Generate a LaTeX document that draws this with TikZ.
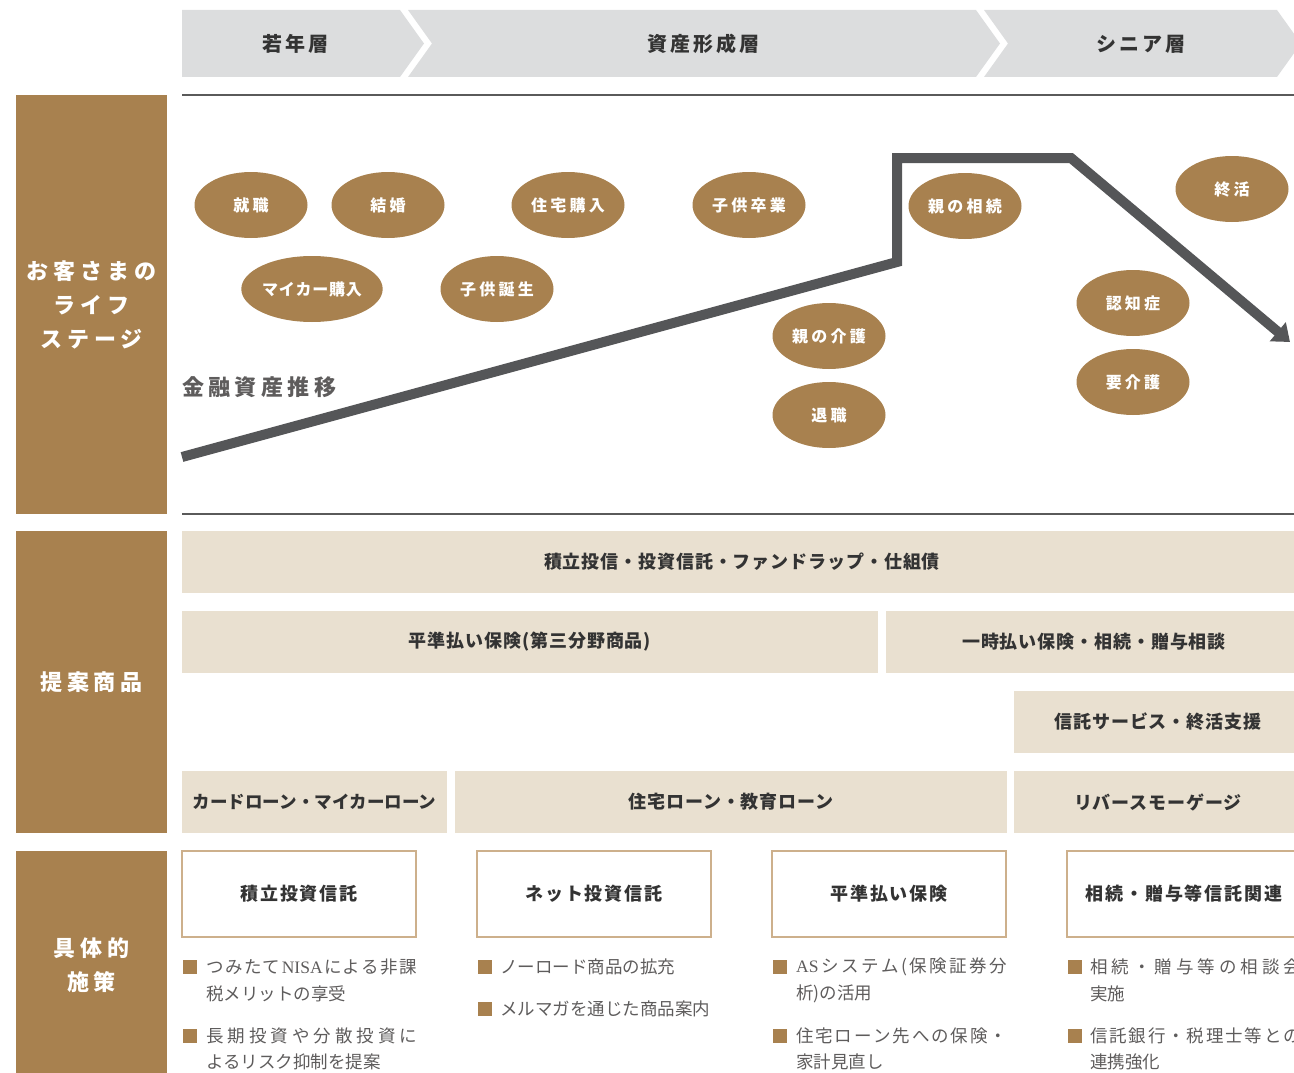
\documentclass[tikz,border=0pt]{standalone}
\usepackage{fontspec}
\usepackage{graphicx}
\setmainfont{Noto Sans CJK JP}
\newfontfamily\jpa{Noto Sans CJK JP}
\newfontfamily\jpb[LetterSpace=5]{Noto Sans CJK JP}
\newfontfamily\jpc[LetterSpace=10]{Noto Sans CJK JP}
\newfontfamily\jpf[LetterSpace=15]{Noto Sans CJK JP}
\newfontfamily\jpd[LetterSpace=20]{Noto Sans CJK JP}
\newfontfamily\jpe[LetterSpace=22]{Noto Sans CJK JP}
\newfontfamily\latserif{Liberation Serif}
\usetikzlibrary{arrows.meta,shapes.geometric}

\definecolor{brownA}{HTML}{A8814F}
\definecolor{beigeA}{HTML}{E9E0D0}
\definecolor{hdrgray}{HTML}{DCDDDE}
\definecolor{pathgray}{HTML}{555658}
\definecolor{rulegray}{HTML}{5A5A5A}
\definecolor{boxline}{HTML}{CDB08C}
\definecolor{txtdark}{HTML}{333333}
\definecolor{txtgray}{HTML}{5E5C5C}

\def\jrelax{\relax}
\def\justline#1#2{\hbox to #1{\justfirst#2\relax}}
\def\justfirst#1{{#1}\justloop}
\def\justloop#1{\def\jtmp{#1}\ifx\jtmp\jrelax\else\hfil{#1}\expandafter\justloop\fi}

\tikzset{
  hdrshape/.style={fill=hdrgray},
  hdrtext/.style={inner sep=0, text=txtdark, font=\jpf\bfseries\fontsize{20}{24}\selectfont},
  rule/.style={draw=rulegray, line width=1.2pt},
  side/.style={fill=brownA, inner sep=0, minimum width=151pt, text=white, align=center,
    font=\jpe\bfseries\fontsize{22}{34}\selectfont},
  event/.style={ellipse, fill=brownA, minimum width=113pt, minimum height=66pt, inner sep=0,
    text=white, font=\jpd\bfseries\fontsize{16}{18}\selectfont},
  prod/.style={fill=beigeA, inner sep=0, minimum height=62pt, text=txtdark,
    font=\jpb\bfseries\fontsize{18}{20}\selectfont},
  measure/.style={draw=boxline, line width=1.3pt, fill=white, minimum width=234pt,
    minimum height=86pt, inner sep=0, text=txtdark, font=\jpc\bfseries\fontsize{18}{20}\selectfont},
  bullet/.style={fill=brownA, minimum size=14pt, inner sep=0},
  btext/.style={anchor=west, inner sep=0, text=txtgray, font=\jpa\fontsize{17.5}{26}\selectfont},
  assetline/.style={draw=pathgray, line width=10pt, miter limit=20,
    -{Triangle[length=16pt,width=24pt]}},
}

\begin{document}
\begin{tikzpicture}[x=1pt,y=-1pt]
\useasboundingbox (0,0) rectangle (1294,1073);
\clip (0,0) rectangle (1294,1073);

% ---- header chevrons ----
\fill[hdrshape] (182,10) -- (400,10) -- (424,43.5) -- (400,77) -- (182,77) -- cycle;
\fill[hdrshape] (408,10) -- (976,10) -- (1000,43.5) -- (976,77) -- (408,77) -- (432,43.5) -- cycle;
\fill[hdrshape] (984,10) -- (1277,10) -- (1301,43.5) -- (1277,77) -- (984,77) -- (1008,43.5) -- cycle;
\node[hdrtext] (h1) at (295,44) {若年層};
\node[hdrtext] (h2) at (703,44) {資産形成層};
\node[hdrtext] (h3) at (1141,44) {シニア層};

% ---- rules ----
\draw[rule] (182,95) -- (1294,95);
\draw[rule] (182,514) -- (1294,514);

% ---- left column ----
\node[side, minimum height=419pt] (s1) at (91.5,304.5) {お客さまの\\ライフ\\ステージ};
\node[side, minimum height=302pt] (s2) at (91.5,682) {提案商品};
\node[side, minimum height=229pt] (s3) at (91.5,965.5) {具体的\\施策};

% ---- asset curve ----
\coordinate (p0) at (182,457);
\coordinate (p1) at (897,262);
\coordinate (p2) at (897,158);
\coordinate (p3) at (1071,158);
\coordinate (p4) at (1290,342);
\draw[assetline] (p0) -- (p1) -- (p2) -- (p3) -- (p4);
\node[anchor=west, inner sep=0, text=txtgray, font=\jpd\bfseries\fontsize{22}{24}\selectfont]
  (asset) at (182,387) {金融資産推移};

% ---- life events ----
\node[event] (e1) at (251,205) {就職};
\node[event] (e2) at (388,205) {結婚};
\node[event] (e3) at (568,205) {住宅購入};
\node[event] (e4) at (749,205) {子供卒業};
\node[event] (e5) at (965,206) {親の相続};
\node[event] (e6) at (1232,189) {終活};
\node[event, font=\jpb\bfseries\fontsize{16}{18}\selectfont] (e7) at (312,289) {マイカー購入};
\node[event] (e8) at (497,289) {子供誕生};
\node[event] (e9) at (829,336) {親の介護};
\node[event] (e10) at (829,415) {退職};
\node[event] (e11) at (1133,303) {認知症};
\node[event] (e12) at (1133,382) {要介護};

% ---- products ----
\node[prod, minimum width=1120pt] (r1) at (742,562) {積立投信・投資信託・ファンドラップ・仕組債};
\node[prod, minimum width=696pt] (r2a) at (530,642) {平準払い保険(第三分野商品)};
\node[prod, minimum width=416pt] (r2b) at (1094,642) {一時払い保険・相続・贈与相談};
\node[prod, minimum width=288pt] (r3) at (1158,722) {信託サービス・終活支援};
\node[prod, minimum width=265pt, font=\jpa\bfseries\fontsize{17.5}{20}\selectfont] (r4a) at (314.5,802) {カードローン・マイカーローン};
\node[prod, minimum width=552pt] (r4b) at (731,802) {住宅ローン・教育ローン};
\node[prod, minimum width=288pt] (r4c) at (1158,802) {リバースモーゲージ};

% ---- measures ----
\node[measure] (m1) at (299,894) {積立投資信託};
\node[measure] (m2) at (594,894) {ネット投資信託};
\node[measure] (m3) at (889,894) {平準払い保険};
\node[measure] (m4) at (1184,894) {相続・贈与等信託関連};

% column 1
\node[bullet] (b11) at (190,967) {};
\node[btext] (t11a) at (206,967) {\justline{211pt}{つみたて{\latserif NISA}による非課}};
\node[btext] (t11b) at (206,994) {税メリットの享受};
\node[bullet] (b12) at (190,1036) {};
\node[btext] (t12a) at (206,1036) {\justline{211pt}{長期投資や分散投資に}};
\node[btext] (t12b) at (206,1062) {よるリスク抑制を提案};

% column 2
\node[bullet] (b21) at (485,967) {};
\node[btext] (t21a) at (500,967) {ノーロード商品の拡充};
\node[bullet] (b22) at (485,1009) {};
\node[btext] (t22a) at (500,1009) {メルマガを通じた商品案内};

% column 3
\node[bullet] (b31) at (780,967) {};
\node[btext] (t31a) at (796,967) {\justline{211pt}{{\latserif AS}システム(保険証券分}};
\node[btext] (t31b) at (796,994) {析)の活用};
\node[bullet] (b32) at (780,1036) {};
\node[btext] (t32a) at (796,1036) {\justline{211pt}{住宅ローン先への保険・}};
\node[btext] (t32b) at (796,1062) {家計見直し};

% column 4
\node[bullet] (b41) at (1075,967) {};
\node[btext] (t41a) at (1090,967) {\justline{211pt}{相続・贈与等の相談会}};
\node[btext] (t41b) at (1090,994) {実施};
\node[bullet] (b42) at (1075,1036) {};
\node[btext] (t42a) at (1090,1036) {\justline{211pt}{信託銀行・税理士等との}};
\node[btext] (t42b) at (1090,1062) {連携強化};
\end{tikzpicture}
\end{document}
